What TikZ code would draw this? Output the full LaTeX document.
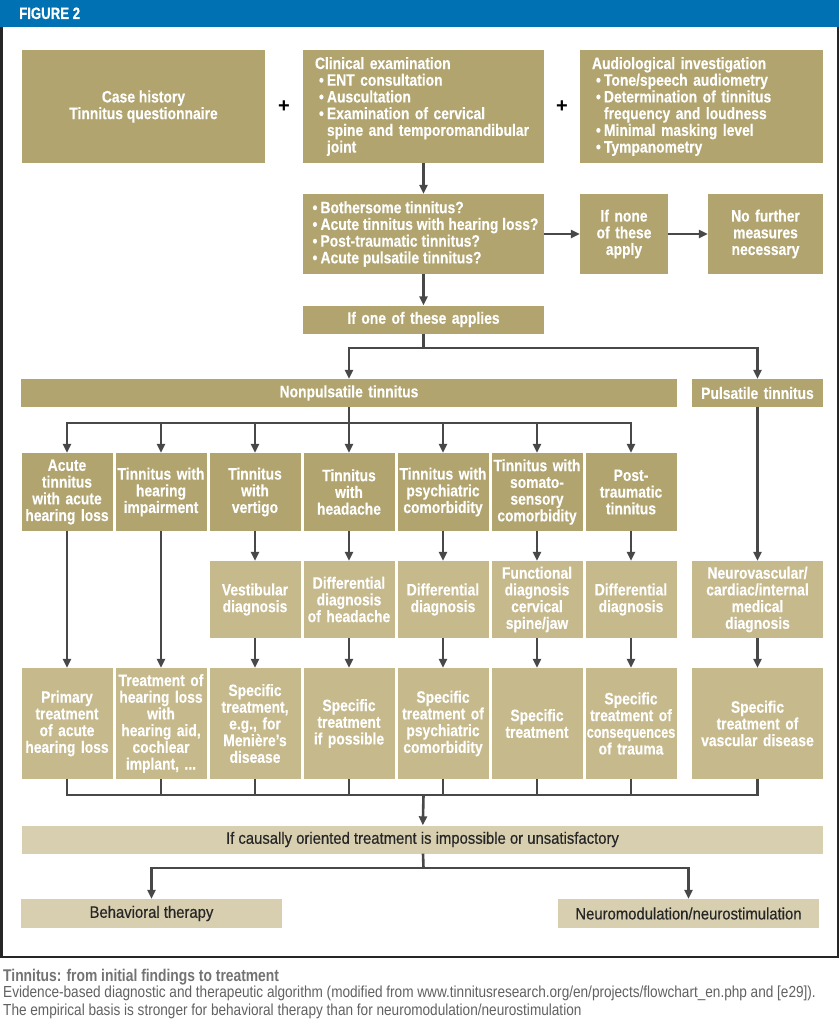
\documentclass[tikz,border=0pt]{standalone}
\usepackage{fontspec}
\setmainfont{Liberation Sans}
\newfontfamily\boxfont[FakeStretch=0.84,FakeBold=0.3]{Liberation Sans}
\newfontfamily\headfont[FakeStretch=0.8,FakeBold=0.6]{Liberation Sans}
\newfontfamily\palefont[FakeStretch=0.9,FakeBold=0.4]{Liberation Sans}
\newfontfamily\capfont[FakeStretch=0.85]{Liberation Sans}
\newfontfamily\captitlefont[FakeStretch=0.815]{Liberation Sans}
\usetikzlibrary{arrows.meta,positioning}
\definecolor{figblue}{RGB}{0,113,178}
\definecolor{khaki}{RGB}{177,164,111}
\definecolor{lightkhaki}{RGB}{198,186,141}
\definecolor{palekhaki}{RGB}{216,207,176}
\definecolor{arrowgray}{RGB}{72,72,72}
\colorlet{captiongray}{black!55}
\newcommand{\bul}{\hspace*{4pt}\makebox[8pt][l]{\textbullet}}
\newcommand{\ind}{\hspace*{12pt}}
\tikzstyle{box}=[fill=khaki, text=white, inner sep=1pt, align=center,
  font=\boxfont\bfseries\fontsize{16.5}{16.7}\selectfont]
\tikzstyle{cat}=[box, text width=89pt, minimum height=78pt]
\tikzstyle{diag}=[cat, fill=lightkhaki, minimum height=77pt]
\tikzstyle{treat}=[cat, fill=lightkhaki, minimum height=111pt]
\tikzstyle{palebox}=[fill=palekhaki, text=black!85, inner sep=0pt,
  minimum height=28pt, font=\palefont\fontsize{16.5}{17}\selectfont]
\tikzstyle{conn}=[draw=arrowgray, line width=2.6pt]
\tikzstyle{arr}=[conn, ->]

\begin{document}
\begin{tikzpicture}[x=1pt, y=-1pt, >={Triangle[width=8pt,length=9pt]},
    on grid, node distance=94pt]
  \useasboundingbox (0,0) rectangle (839,1024);
  \fill[figblue] (0,0) rectangle (839,27);
  \node[anchor=base west, inner sep=0pt, text=white,
    font=\headfont\bfseries\fontsize{16.5}{18}\selectfont] (fig) at (19,19) {FIGURE 2};
  \draw[line width=2.5pt, black!85] (1.25,27) -- (1.25,957) -- (837.75,957) -- (837.75,27);

  % first findings
  \node[box, minimum width=243pt, minimum height=113pt] (hist) at (143.5,106.5)
    {Case history\\Tinnitus questionnaire};
  \node[box, align=left, text width=217pt, inner xsep=12pt, minimum height=113pt]
    (clin) at (423.5,106.5)
    {Clinical examination\\ \bul ENT consultation\\ \bul Auscultation\\
     \bul Examination of cervical\\ \ind spine and temporomandibular\\ \ind joint};
  \node[box, align=left, text width=219pt, inner xsep=12pt, minimum height=113pt]
    (audio) at (701.5,106.5)
    {Audiological investigation\\ \bul Tone/speech audiometry\\
     \bul Determination of tinnitus\\ \ind frequency and loudness\\
     \bul Minimal masking level\\ \bul Tympanometry};
  \node[font=\bfseries\fontsize{20}{20}\selectfont] (plus1) at (284,107) {+};
  \node[font=\bfseries\fontsize{20}{20}\selectfont] (plus2) at (562,107) {+};

  \node[box, align=left, minimum width=241pt, minimum height=80pt]
    (quest) at (423.5,234)
    {\bul Bothersome tinnitus?\\ \bul Acute tinnitus with hearing loss?\\
     \bul Post-traumatic tinnitus?\\ \bul Acute pulsatile tinnitus?};
  \node[box, text width=86pt, minimum height=80pt] (none) at (624,234) {If none\\of these\\apply};
  \node[box, text width=113pt, minimum height=80pt] (nomore) at (765.5,234)
    {No further\\measures\\necessary};
  \node[box, text width=239pt, minimum height=28pt] (oneapp) at (423.5,319.5)
    {If one of these applies};

  \node[box, text width=654pt, minimum height=28pt] (nonpuls) at (349,393) {Nonpulsatile tinnitus};
  \node[box, text width=129pt, minimum height=28pt] (puls) at (757.5,393) {Pulsatile tinnitus};

  % kinds of tinnitus
  \node[cat]                (c1) at (67,492) {Acute\\tinnitus\\with acute\\hearing loss};
  \node[cat, right=of c1]   (c2) {Tinnitus with\\hearing\\impairment};
  \node[cat, right=of c2]   (c3) {Tinnitus\\with\\vertigo};
  \node[cat, right=of c3]   (c4) {Tinnitus\\with\\headache};
  \node[cat, right=of c4]   (c5) {Tinnitus with\\psychiatric\\comorbidity};
  \node[cat, right=of c5]   (c6) {Tinnitus with\\somato-\\sensory\\comorbidity};
  \node[cat, right=of c6]   (c7) {Post-\\traumatic\\tinnitus};

  \node[diag, below=107.5pt of c3] (d3) {Vestibular\\diagnosis};
  \node[diag, below=107.5pt of c4] (d4) {Differential\\diagnosis\\of headache};
  \node[diag, below=107.5pt of c5] (d5) {Differential\\diagnosis};
  \node[diag, below=107.5pt of c6] (d6) {Functional\\diagnosis\\cervical\\spine/jaw};
  \node[diag, below=107.5pt of c7] (d7) {Differential\\diagnosis};
  \node[diag, text width=129pt, below=206.5pt of puls] (dp)
    {Neurovascular/\\cardiac/internal\\medical\\diagnosis};

  \node[treat, below=231.5pt of c1] (t1) {Primary\\treatment\\of acute\\hearing loss};
  \node[treat, below=231.5pt of c2] (t2)
    {Treatment of\\hearing loss\\with\\hearing aid,\\cochlear\\implant, ...};
  \node[treat, below=124pt of d3] (t3) {Specific\\treatment,\\e.g., for\\Menière’s\\disease};
  \node[treat, below=124pt of d4] (t4) {Specific\\treatment\\if possible};
  \node[treat, below=124pt of d5] (t5) {Specific\\treatment of\\psychiatric\\comorbidity};
  \node[treat, below=124pt of d6] (t6) {Specific\\treatment};
  \node[treat, below=124pt of d7] (t7)
    {Specific\\treatment of\\\scalebox{0.92}[1]{consequences}\\of trauma};
  \node[treat, text width=129pt, below=124pt of dp] (tp)
    {Specific\\treatment of\\vascular disease};

  % last resort
  \node[palebox, minimum width=801pt] (causal) at (422.5,839.5)
    {If causally oriented treatment is impossible or unsatisfactory};
  \node[palebox, minimum width=261pt, minimum height=29pt] (behav) at (151.5,913.5)
    {Behavioral therapy};
  \node[palebox, minimum width=261pt, minimum height=29pt] (neuro) at (688.5,913.5)
    {Neuromodulation/neurostimulation};

  % connectors
  \draw[arr] (clin) -- (quest);
  \draw[arr] (quest) -- (none);
  \draw[arr] (none) -- (nomore);
  \draw[arr] (quest) -- (oneapp);
  \coordinate (split) at (423.5,348);
  \draw[conn] (oneapp) -- (split);
  \draw[arr] (split) -| (nonpuls);
  \draw[arr] (split) -| (puls);
  \coordinate (fork) at (349,423);
  \draw[conn] (nonpuls) -- (fork);
  \foreach \i in {1,...,7} \draw[arr] (fork) -| (c\i);
  \draw[arr] (c1) -- (t1);
  \draw[arr] (c2) -- (t2);
  \foreach \i in {3,...,7} {
    \draw[arr] (c\i) -- (d\i);
    \draw[arr] (d\i) -- (t\i);
  }
  \draw[arr] (puls) -- (dp);
  \draw[arr] (dp) -- (tp);
  \coordinate (join) at (423.5,795);
  \foreach \t in {t1,t2,t3,t4,t5,t6,t7,tp} \draw[conn] (\t) |- (join);
  \draw[arr] (join) -- (causal);
  \coordinate (split2) at (423.5,868);
  \draw[conn] (causal) -- (split2);
  \draw[arr] (split2) -| (behav);
  \draw[arr] (split2) -| (neuro);

  % caption
  \node[anchor=base west, inner sep=0pt, text=captiongray,
    font=\captitlefont\bfseries\fontsize{17}{18}\selectfont] (captitle) at (3,981)
    {Tinnitus: from initial findings to treatment};
  \node[anchor=base west, inner sep=0pt, text=black!62,
    font=\capfont\fontsize{16}{18}\selectfont] (capline1) at (3,997)
    {Evidence-based diagnostic and therapeutic algorithm (modified from www.tinnitusresearch.org/en/projects/flowchart\_en.php and [e29]).};
  \node[anchor=base west, inner sep=0pt, text=black!62,
    font=\capfont\fontsize{16}{18}\selectfont] (capline2) at (3,1015)
    {The empirical basis is stronger for behavioral therapy than for neuromodulation/neurostimulation};
\end{tikzpicture}
\end{document}
